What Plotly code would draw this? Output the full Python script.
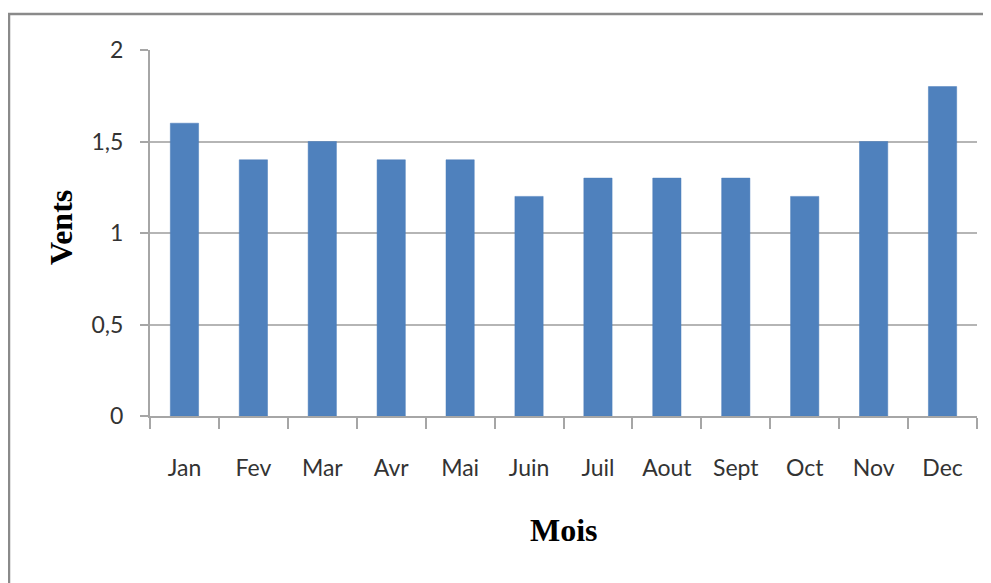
import plotly.graph_objects as go

months = ["Jan", "Fev", "Mar", "Avr", "Mai", "Juin", "Juil", "Aout", "Sept", "Oct", "Nov", "Dec"]
vents = [1.6, 1.4, 1.5, 1.4, 1.4, 1.2, 1.3, 1.3, 1.3, 1.2, 1.5, 1.8]
y_ticks = [0, 0.5, 1, 1.5, 2]
y_tick_labels = ["0", "0,5", "1", "1,5", "2"]

OFF = 8  # page body margin
W, H = 991 - OFF, 583 - OFF
L, R, T, B = 150 - OFF, 14, 50 - OFF, 167
pw, ph = W - L - R, H - T - B

def px(x):
    return (x - OFF - L) / pw

def py(y):
    return (H - B - (y - OFF)) / ph

fig = go.Figure()
fig.add_trace(go.Bar(x=months, y=vents, marker=dict(color="#4F81BD", line=dict(color="#4A7DBA", width=0.5)),
                     width=0.41))

tick_font = dict(family="Lato, Open Sans, sans-serif", size=23, color="#333333")

fig.update_layout(
    width=W, height=H,
    margin=dict(l=L, r=R, t=T, b=B),
    paper_bgcolor="white", plot_bgcolor="white",
    showlegend=False,
    xaxis=dict(
        type="category", tickson="boundaries", ticks="outside", ticklen=11, tickwidth=1.5,
        tickcolor="#a6a6a6", showline=True, linecolor="#a6a6a6", linewidth=2,
        showgrid=False, tickfont=tick_font, ticklabelstandoff=30,
        range=[-0.5, 11.5],
    ),
    yaxis=dict(
        range=[0, 2], tickvals=y_ticks, ticktext=y_tick_labels,
        ticks="outside", ticklen=8, tickwidth=1.5, tickcolor="#a6a6a6",
        showline=True, linecolor="#a6a6a6", linewidth=2,
        showgrid=True, gridcolor="#b5b5b5", gridwidth=1.5,
        zeroline=False, tickfont=tick_font, ticklabelstandoff=12,
    ),
    annotations=[
        dict(text="<b>Mois</b>", xref="paper", yref="paper", x=0.5, y=py(530), showarrow=False,
             font=dict(family="Liberation Serif, Times New Roman, serif", size=32, color="black"),
             xanchor="center", yanchor="middle"),
        dict(text="<b>Vents</b>", xref="paper", yref="paper", x=px(61), y=py(228), showarrow=False,
             textangle=-90,
             font=dict(family="Liberation Serif, Times New Roman, serif", size=32, color="black"),
             xanchor="center", yanchor="middle"),
    ],
    shapes=[
        dict(type="path", xref="paper", yref="paper",
             path=f"M {px(9)},{py(600)} L {px(9)},{py(14)} L {px(1000)},{py(14)}",
             line=dict(color="#8a8a8a", width=2.5)),
    ],
)

fig.write_html("out.html")
